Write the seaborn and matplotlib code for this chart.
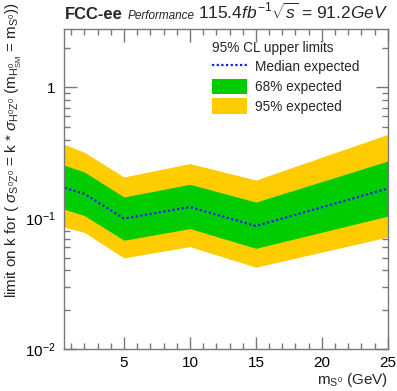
import numpy as np
import pandas as pd
import matplotlib
matplotlib.use("Agg")
import matplotlib.pyplot as plt
import matplotlib.ticker as mticker
from matplotlib.patches import Patch
from matplotlib.lines import Line2D
import seaborn as sns

# ---- data ----
mass = [0.5, 2, 5, 10, 15, 25]
median_exp = [0.171, 0.154, 0.0995, 0.122, 0.0873, 0.169]
band68_lo = [0.117, 0.105, 0.068, 0.0834, 0.059, 0.104]
band68_hi = [0.254, 0.226, 0.1455, 0.182, 0.133, 0.274]
band95_lo = [0.0854, 0.078, 0.0498, 0.0608, 0.0423, 0.072]
band95_hi = [0.367, 0.319, 0.207, 0.262, 0.196, 0.438]
legend_labels = ["Median expected", "68% expected", "95% expected"]

df = pd.DataFrame({"mass": mass, "median": median_exp})

sns.set_style("ticks")
plt.rcParams["font.family"] = ["Liberation Sans", "DejaVu Sans"]
plt.rcParams["mathtext.fontset"] = "custom"
plt.rcParams["mathtext.rm"] = "Liberation Sans"
plt.rcParams["mathtext.it"] = "Liberation Sans:italic"
plt.rcParams["mathtext.bf"] = "Liberation Sans:bold"

fig = plt.figure(figsize=(3.97, 3.91), dpi=100)
ax = fig.add_axes([0.161, 0.107, 0.816, 0.819])

yellow = "#ffcc00"
green = "#00cc00"
blue = "#1a1aff"

ax.fill_between(mass, band95_lo, band95_hi, color=yellow, lw=0)
ax.fill_between(mass, band68_lo, band68_hi, color=green, lw=0)
sns.lineplot(data=df, x="mass", y="median", ax=ax, color=blue,
             linestyle=(0, (1, 1.1)), linewidth=1.6)

ax.set_yscale("log")
ax.set_xlim(0.45, 25)
ax.set_ylim(0.01, 2.8)

frame_col = "#777777"
for s in ax.spines.values():
    s.set_color(frame_col)
    s.set_linewidth(1.0)

ax.xaxis.set_major_locator(mticker.MultipleLocator(5))
ax.xaxis.set_minor_locator(mticker.MultipleLocator(1))
ax.yaxis.set_major_locator(mticker.FixedLocator([0.01, 0.1, 1]))
ax.yaxis.set_minor_locator(mticker.LogLocator(base=10, subs=np.arange(2, 10), numticks=20))
ax.yaxis.set_major_formatter(mticker.FixedFormatter(["$10^{-2}$", "$10^{-1}$", "1"]))
ax.yaxis.set_minor_formatter(mticker.NullFormatter())

ax.tick_params(which="both", direction="in", top=True, right=True,
               color=frame_col, labelsize=11, labelcolor="black")
ax.tick_params(which="major", length=9, width=1)
ax.tick_params(which="minor", length=4.5, width=1)
ax.tick_params(axis="x", pad=5)
ax.tick_params(axis="y", pad=6)

ax.set_xlabel(r"m$_{\mathregular{S^0}}$ (GeV)", fontsize=11, loc="right", labelpad=1)
ax.set_ylabel("")
fig.text(0.035, 0.995,
         r"limit on k for ( $\sigma_{\mathregular{S^0Z^0}}$ = k * $\sigma_{\mathregular{H^0Z^0}}$ (m$_{\mathregular{H^0_{SM}}}$ = m$_{\mathregular{S^0}}$))",
         fontsize=11, rotation=90, ha="center", va="top")
ax.grid(False)

# header
fig.text(0.163, 0.952, "FCC-ee", fontsize=12, fontweight="bold", ha="left", va="baseline")
fig.text(0.322, 0.952, "Performance", fontsize=8.5, style="italic", ha="left", va="baseline")
fig.text(0.977, 0.952, r"115.4$\it{fb}^{-1}\sqrt{\it{s}}$ = 91.2$\it{GeV}$", fontsize=12.5,
         ha="right", va="baseline")

handles = [Line2D([0], [0], color=blue, linestyle=(0, (1, 1.1)), linewidth=1.6),
           Patch(facecolor=green, edgecolor="none"),
           Patch(facecolor=yellow, edgecolor="none")]
leg = ax.legend(handles, legend_labels, title="95% CL upper limits", loc="upper left",
                bbox_to_anchor=(0.44, 0.98), frameon=False, fontsize=9.8,
                title_fontsize=9.8, handlelength=2.6, handleheight=1.4,
                handletextpad=0.6, labelspacing=0.3, borderaxespad=0)
leg._legend_box.align = "left"

fig.savefig("out.png", dpi=100)
